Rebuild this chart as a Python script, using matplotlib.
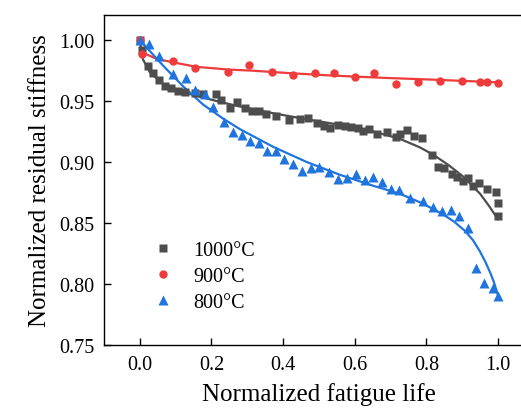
import matplotlib
matplotlib.use('Agg')
import matplotlib.pyplot as plt

# measured points, 1000 C
x_1000 = [0.0, 0.005, 0.023, 0.037, 0.054, 0.07, 0.088, 0.107, 0.126, 0.154,
          0.177, 0.212, 0.228, 0.251, 0.272, 0.295, 0.314, 0.333, 0.351, 0.379,
          0.417, 0.447, 0.47, 0.494, 0.515, 0.531, 0.554, 0.573, 0.589, 0.61,
          0.624, 0.64, 0.661, 0.691, 0.715, 0.726, 0.745, 0.766, 0.787, 0.815,
          0.833, 0.85, 0.871, 0.886, 0.903, 0.917, 0.931, 0.948, 0.97, 0.994,
          1.0, 1.0]
y_1000 = [1.0, 0.992, 0.979, 0.973, 0.967, 0.962, 0.961, 0.9585, 0.957, 0.9566,
          0.9557, 0.9557, 0.951, 0.944, 0.949, 0.944, 0.942, 0.942, 0.9393, 0.9374,
          0.9347, 0.9352, 0.936, 0.9317, 0.9298, 0.9276, 0.930, 0.9298, 0.929, 0.9276,
          0.9257, 0.927, 0.923, 0.925, 0.9207, 0.923, 0.926, 0.9216, 0.920, 0.9057,
          0.8957, 0.8948, 0.890, 0.8875, 0.8847, 0.8866, 0.8806, 0.8828, 0.8779, 0.8757,
          0.8664, 0.8555]

# measured points, 900 C
x_900 = [0.0, 0.0075, 0.093, 0.154, 0.245, 0.306, 0.368, 0.428, 0.49, 0.542,
         0.602, 0.654, 0.714, 0.776, 0.837, 0.899, 0.95, 0.97, 1.0]
y_900 = [1.0, 0.9885, 0.983, 0.977, 0.9735, 0.9795, 0.974, 0.9716, 0.9727, 0.9727,
         0.970, 0.9727, 0.964, 0.9658, 0.9667, 0.9664, 0.9656, 0.9656, 0.9648]

# measured points, 800 C
x_800 = [0.0, 0.026, 0.054, 0.093, 0.128, 0.154, 0.182, 0.205, 0.235, 0.259,
         0.284, 0.307, 0.333, 0.356, 0.38, 0.403, 0.427, 0.452, 0.477, 0.501,
         0.529, 0.554, 0.579, 0.603, 0.628, 0.652, 0.677, 0.70, 0.724, 0.754,
         0.791, 0.819, 0.844, 0.868, 0.892, 0.917, 0.938, 0.962, 0.985, 1.0]
y_800 = [1.0, 0.9967, 0.987, 0.972, 0.9686, 0.959, 0.9557, 0.9448, 0.933, 0.925,
         0.922, 0.9175, 0.9156, 0.9093, 0.9093, 0.9025, 0.8984, 0.893, 0.8948, 0.8962,
         0.8915, 0.886, 0.8866, 0.890, 0.8852, 0.888, 0.8834, 0.878, 0.8773, 0.8705,
         0.8683, 0.8634, 0.8601, 0.8609, 0.856, 0.8457, 0.813, 0.8008, 0.7967, 0.7904]

# fitted curves
fx_1000 = [0.0, 0.009, 0.028, 0.065, 0.112, 0.158, 0.214, 0.279, 0.372, 0.466,
           0.559, 0.652, 0.726, 0.782, 0.819, 0.862, 0.903, 0.95, 0.975, 1.0]
fy_1000 = [0.999, 0.984, 0.9735, 0.964, 0.9585, 0.9543, 0.950, 0.9455, 0.940, 0.935,
           0.9305, 0.925, 0.919, 0.912, 0.906, 0.8975, 0.888, 0.874, 0.864, 0.853]

fx_900 = [0.005, 0.047, 0.093, 0.158, 0.251, 0.307, 0.42, 0.54, 0.68, 0.819, 1.0]
fy_900 = [0.990, 0.9845, 0.9817, 0.978, 0.9757, 0.975, 0.9728, 0.9708, 0.969, 0.9675, 0.9653]

fx_800 = [0.0, 0.065, 0.121, 0.177, 0.233, 0.279, 0.372, 0.466, 0.559, 0.652,
          0.726, 0.782, 0.819, 0.847, 0.878, 0.908, 0.93, 0.95, 0.965, 0.978,
          0.988, 0.996, 1.0]
fy_800 = [1.0, 0.979, 0.962, 0.947, 0.9355, 0.927, 0.9125, 0.900, 0.8895, 0.8805,
          0.874, 0.867, 0.8615, 0.857, 0.851, 0.8435, 0.836, 0.8265, 0.818, 0.8095,
          0.802, 0.7945, 0.7905]

labels = ['1000\u00b0C', '900\u00b0C', '800\u00b0C']
colors = ['#4d4d4d', '#ef3b3b', '#1f74dd']

plt.rcParams['font.family'] = ['Liberation Serif', 'DejaVu Serif']

fig = plt.figure(figsize=(5.21, 4.10), dpi=100)
ax = fig.add_axes([0.1996, 0.156, 0.825, 0.805])

series = [(x_1000, y_1000, fx_1000, fy_1000, 's', 5.5),
          (x_900, y_900, fx_900, fy_900, 'o', 6.0),
          (x_800, y_800, fx_800, fy_800, '^', 7.0)]
for (x, y, fx, fy, mk, ms), lab, c in zip(series, labels, colors):
    ax.plot(fx, fy, '-', color=c, lw=1.6, zorder=2)
    ax.plot(x, y, mk, color=c, ms=ms, mec='none', label=lab, zorder=3)

ax.set_xlim(-0.1, 1.1)
ax.set_ylim(0.75, 1.0205)
ax.set_xticks([0.0, 0.2, 0.4, 0.6, 0.8, 1.0])
ax.set_yticks([0.75, 0.80, 0.85, 0.90, 0.95, 1.00])
ax.set_xticklabels(['%.1f' % v for v in ax.get_xticks()])
ax.set_yticklabels(['%.2f' % v for v in ax.get_yticks()])
ax.tick_params(direction='in', length=5, width=1, labelsize=14.5, pad=7)
for sp in ax.spines.values():
    sp.set_linewidth(1.0)

ax.set_xlabel('Normalized fatigue life', fontsize=18, labelpad=6)
ax.set_ylabel('Normalized residual stiffness', fontsize=18, labelpad=6)

ax.legend(loc='upper left', bbox_to_anchor=(0.09, 0.34), frameon=False,
          fontsize=14.5, handlelength=1.2, handletextpad=0.9,
          labelspacing=0.35, borderaxespad=0)

fig.savefig('out.png', dpi=100)
